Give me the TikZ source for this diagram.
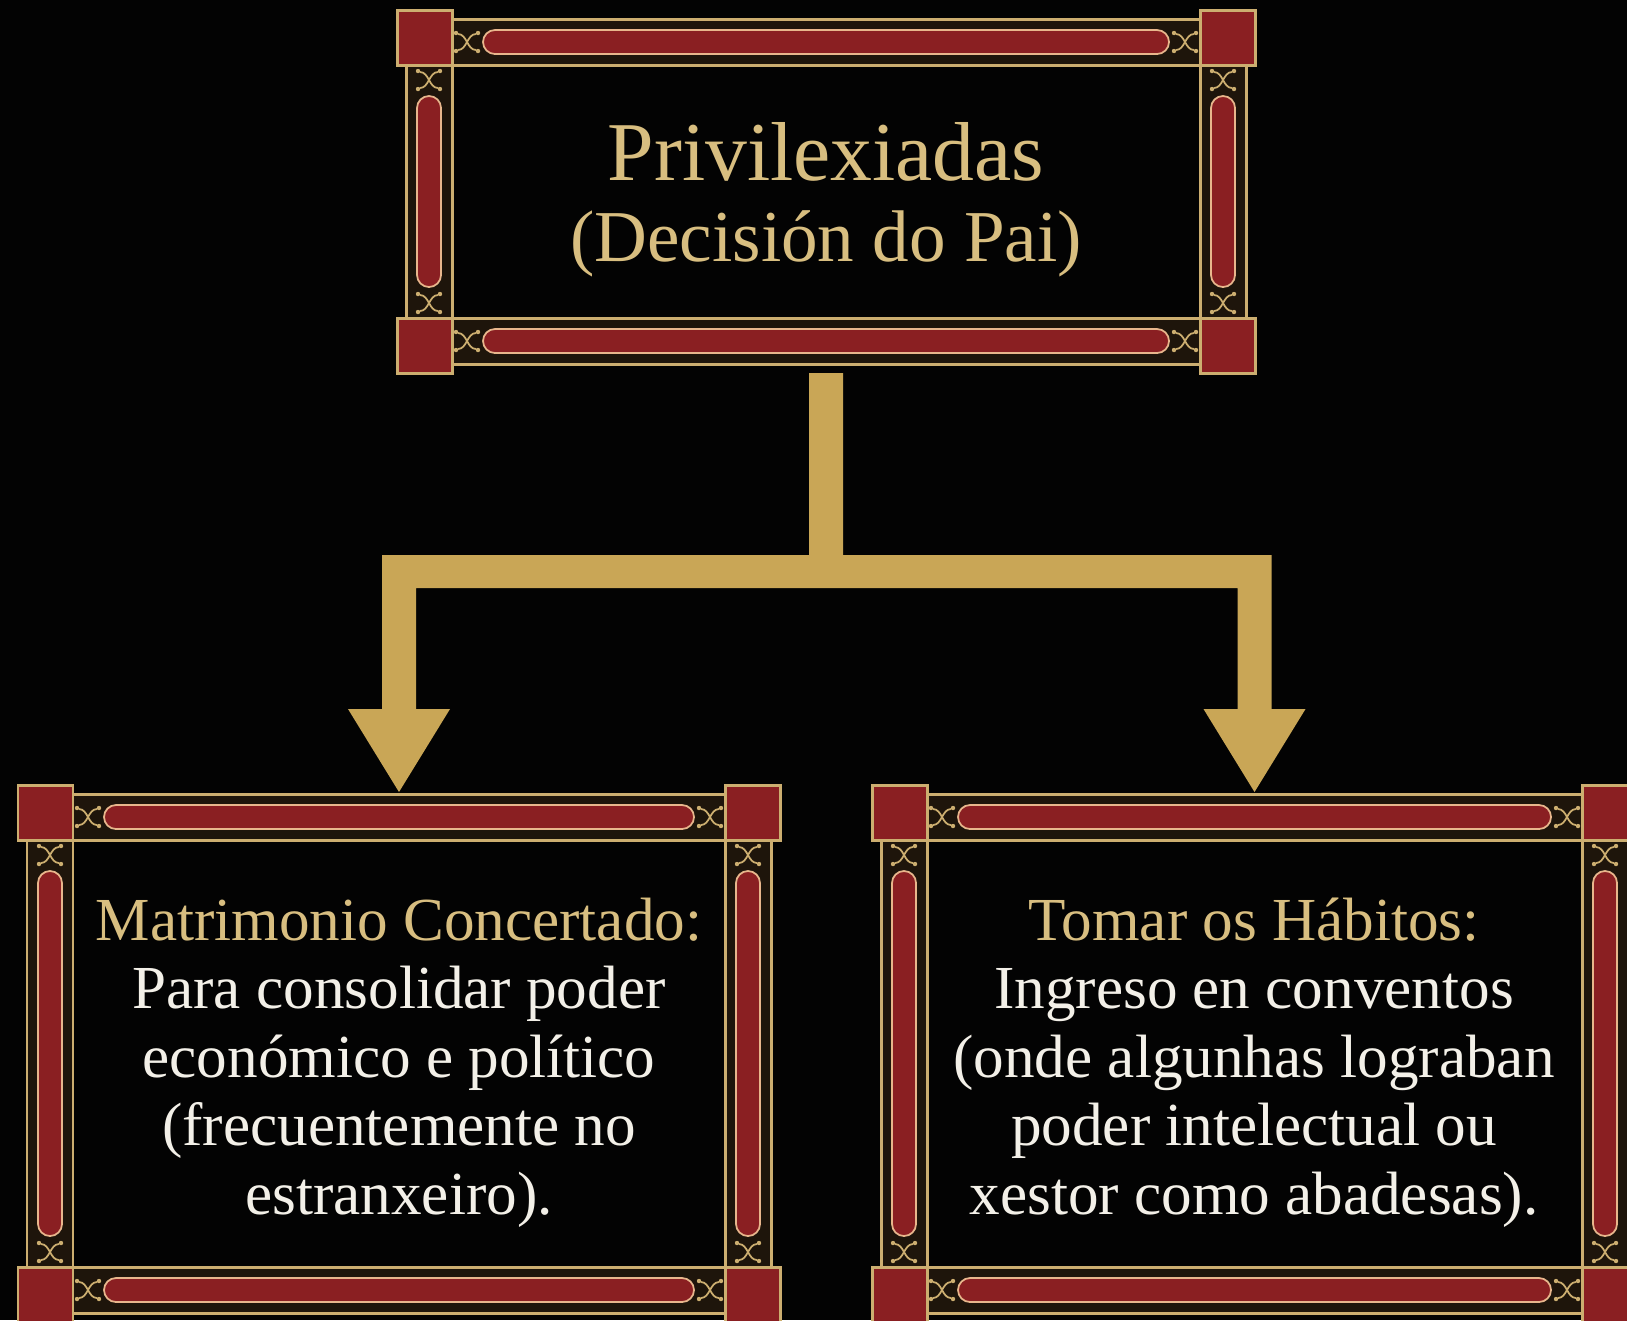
\documentclass[tikz,border=0pt]{standalone}
\usepackage{fontspec}
\setmainfont{Liberation Serif}
\usetikzlibrary{calc}

\definecolor{bgblack}{RGB}{3,3,3}
\definecolor{goldtext}{RGB}{216,190,128}
\definecolor{paletext}{RGB}{243,240,232}
\definecolor{linkgold}{RGB}{201,166,86}
\definecolor{framegold}{RGB}{204,174,112}
\definecolor{banddark}{RGB}{30,21,11}
\definecolor{framered}{RGB}{138,31,34}
\definecolor{pillrim}{RGB}{232,182,140}

\tikzset{
  framebox/.style={rectangle, inner sep=0pt, outer sep=0pt},
  bandline/.style={draw=framegold, line width=0.85pt, fill=banddark},
  redbar/.style={draw=pillrim, line width=0.5pt, fill=framered, rounded corners=1.2mm},
  cornerbox/.style={draw=framegold, line width=0.85pt, fill=framered},
  ornline/.style={draw=framegold, line width=0.5pt},
  goldlink/.style={fill=linkgold},
  titletext/.style={text=goldtext, align=center, inner sep=0pt, anchor=north,
    font=\fontsize{23.8}{23.0}\selectfont},
  bodytext/.style={text=paletext, align=center, inner sep=0pt, anchor=north,
    font=\fontsize{17.4}{19.5}\selectfont},
  flourish/.pic={
    \draw[ornline] (-9,-8) .. controls (0,-8) and (0,8) .. (9,8);
    \draw[ornline] (-9,8) .. controls (0,8) and (0,-8) .. (9,-8);
    \foreach \px/\py in {-11/-9,-11/9,11/-9,11/9}
      \fill[framegold] (\px,\py) circle[radius=0.22mm];
  }
}

% ornate gold-and-red frame around a named node
\newcommand\ornframe[1]{%
  \path (#1.north west) coordinate (fnw) (#1.north east) coordinate (fne)
        (#1.south west) coordinate (fsw) (#1.south east) coordinate (fse);
  \draw[bandline] ($(fnw)+(55,9)$) rectangle ($(fne)+(-55,55)$);
  \draw[bandline] ($(fsw)+(55,-55)$) rectangle ($(fse)+(-55,-9)$);
  \draw[bandline] ($(fnw)+(9,55)$) rectangle ($(fsw)+(55,-55)$);
  \draw[bandline] ($(fne)+(-55,55)$) rectangle ($(fse)+(-9,-55)$);
  \draw[redbar] ($(fnw)+(86,20)$) rectangle ($(fne)+(-86,44)$);
  \draw[redbar] ($(fsw)+(86,-44)$) rectangle ($(fse)+(-86,-20)$);
  \draw[redbar] ($(fnw)+(20,86)$) rectangle ($(fsw)+(44,-86)$);
  \draw[redbar] ($(fne)+(-44,86)$) rectangle ($(fse)+(-20,-86)$);
  \foreach \c/\dx/\dy in {fnw/70/32, fne/-70/32, fsw/70/-32, fse/-70/-32,
                          fnw/32/70, fsw/32/-70, fne/-32/70, fse/-32/-70}
    \pic at ($(\c)+(\dx,\dy)$) {flourish};
  \foreach \c/\dx/\dy in {fnw/0/0, fne/-55/0, fsw/0/-55, fse/-55/-55}
    \draw[cornerbox] ($(\c)+(\dx,\dy)$) rectangle ++(55,55);
}

\begin{document}
\begin{tikzpicture}[x=0.1mm, y=-0.1mm]
\useasboundingbox (0,0) rectangle (1627,1320);
\clip (0,0) rectangle (1627,1320);
\fill[bgblack] (0,0) rectangle (1627,1320);

% the three framed boxes
\node[framebox, minimum width=85.8mm, minimum height=36.3mm] (privs) at (826,191.5) {};
\node[framebox, minimum width=76.2mm, minimum height=53.7mm] (matri) at (399,1053.5) {};
\node[framebox, minimum width=76.5mm, minimum height=53.7mm] (habit) at (1254.5,1053.5) {};

% branching gold arrow
\coordinate (ltip) at ($(matri.north)+(0,7)$);
\coordinate (rtip) at ($(habit.north)+(0,7)$);
\coordinate (bt) at ($(privs.south)+(0,182)$);
\coordinate (bb) at ($(bt)+(0,33)$);
\fill[goldlink] ($(privs.south)+(-17,0)$) -- ($(bt)+(-17,0)$)
  -- ($(bt -| ltip)+(-17,0)$) -- ($(ltip)+(-17,-83)$) -- ($(ltip)+(-51,-83)$)
  -- (ltip) -- ($(ltip)+(51,-83)$) -- ($(ltip)+(17,-83)$)
  -- ($(bb -| ltip)+(17,0)$) -- ($(bb -| rtip)+(-17,0)$)
  -- ($(rtip)+(-17,-83)$) -- ($(rtip)+(-51,-83)$) -- (rtip)
  -- ($(rtip)+(51,-83)$) -- ($(rtip)+(17,-83)$)
  -- ($(bt -| rtip)+(17,0)$) -- ($(bt)+(17,0)$) -- ($(privs.south)+(17,0)$) -- cycle;

\ornframe{privs}
\ornframe{matri}
\ornframe{habit}

% texts
\node[titletext] (ttl) at (826,122) {Privilexiadas\\{\fontsize{20.8}{23.0}\selectfont(Decisión do Pai)}};
\node[bodytext] (mtxt) at (399,897) {\textcolor{goldtext}{Matrimonio Concertado:}\\
  Para consolidar poder\\económico e político\\(frecuentemente no\\estranxeiro).};
\node[bodytext] (htxt) at (1254,897) {\textcolor{goldtext}{Tomar os Hábitos:}\\
  Ingreso en conventos\\(onde algunhas lograban\\poder intelectual ou\\xestor como abadesas).};
\end{tikzpicture}
\end{document}
